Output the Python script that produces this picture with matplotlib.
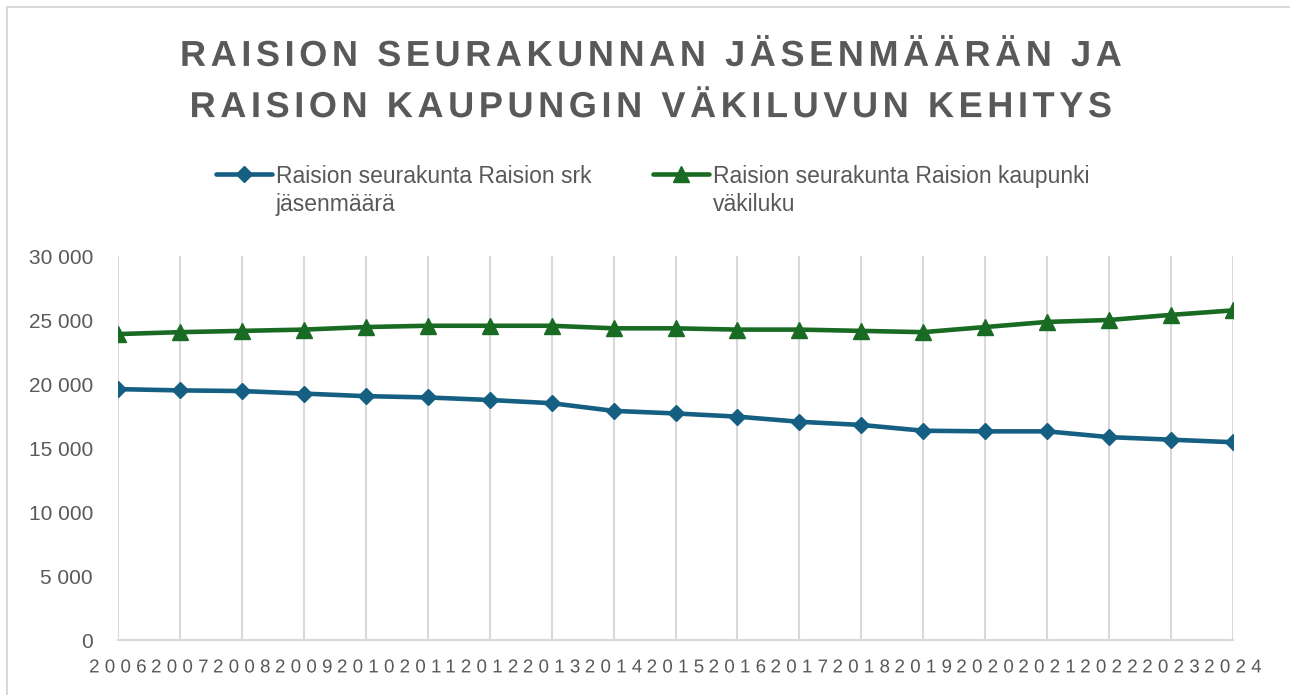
import numpy as np
import matplotlib
matplotlib.use("Agg")
import matplotlib.pyplot as plt
from matplotlib.patches import Rectangle
from matplotlib.path import Path
from matplotlib.ticker import FuncFormatter
from matplotlib import patheffects

years = [2006, 2007, 2008, 2009, 2010, 2011, 2012, 2013, 2014, 2015,
         2016, 2017, 2018, 2019, 2020, 2021, 2022, 2023, 2024]
srk_members = [19600, 19500, 19450, 19250, 19050, 18950, 18750, 18500, 17900, 17700,
               17450, 17050, 16800, 16350, 16300, 16300, 15850, 15650, 15450]
city_population = [23900, 24050, 24150, 24250, 24450, 24550, 24550, 24550, 24350, 24350,
                   24250, 24250, 24150, 24050, 24450, 24850, 25000, 25400, 25750]
series_labels = ["Raision seurakunta Raision srk\njäsenmäärä",
                 "Raision seurakunta Raision kaupunki\nväkiluku"]
title_text = "RAISION SEURAKUNNAN JÄSENMÄÄRÄN JA\nRAISION KAUPUNGIN VÄKILUVUN KEHITYS"
y_ticks = [0, 5000, 10000, 15000, 20000, 25000, 30000]

TEXT = "#595959"
GRID = "#d9d9d9"
BLUE = "#156082"
GREEN = "#196B24"


class Tracking(patheffects.AbstractPathEffect):
    """Add letter spacing (in em) to a centred text path."""
    def __init__(self, em):
        super().__init__()
        self.sp = em * 100.0  # text paths use 100 units per em

    def draw_path(self, renderer, gc, tpath, affine, rgbFace=None):
        codes = tpath.codes
        verts = np.array(tpath.vertices, dtype=float)
        if codes is None or len(codes) == 0:
            renderer.draw_path(gc, tpath, affine, rgbFace)
            return
        real = (codes != Path.CLOSEPOLY) & (codes != Path.STOP)
        starts = list(np.where(codes == Path.MOVETO)[0]) + [len(codes)]
        subs = []
        for i in range(len(starts) - 1):
            a, b = starts[i], starts[i + 1]
            m = real[a:b]
            xs = verts[a:b, 0][m]
            if len(xs) == 0:
                continue
            subs.append((xs.min(), xs.max(), a, b))
        # larger contours first so holes/dots find their host
        subs.sort(key=lambda s: (-(s[1] - s[0]), s[0]))
        glyphs = []
        tol = 4.0
        for x0, x1, a, b in subs:
            host = None
            for g in glyphs:
                if x0 >= g[0] - tol and x1 <= g[1] + tol:
                    host = g
                    break
            if host is None:
                glyphs.append([x0, x1, [(a, b)]])
            else:
                host[2].append((a, b))
        glyphs.sort(key=lambda g: g[0])
        off = 0.0
        offsets = []
        for k, g in enumerate(glyphs):
            if k > 0:
                off += self.sp
                if g[0] - glyphs[k - 1][1] > 22:
                    off += self.sp
            offsets.append(off)
        shift = off / 2.0
        for g, o in zip(glyphs, offsets):
            for a, b in g[2]:
                verts[a:b, 0] += o - shift
        renderer.draw_path(gc, Path(verts, codes), affine, rgbFace)


W, H = 1290, 695
fig = plt.figure(figsize=(W / 100, H / 100), dpi=100)
fig.patch.set_facecolor("white")

ax = fig.add_axes([118 / W, 1 - 640 / H, (1233 - 118) / W, (640 - 256) / H])
ax.plot(years, srk_members, color=BLUE, lw=3.3, marker="D", markersize=7.8,
        label=series_labels[0], zorder=3, solid_capstyle="round")
ax.plot(years, city_population, color=GREEN, lw=3.3, marker="^", markersize=12,
        label=series_labels[1], zorder=3, solid_capstyle="round")

ax.set_xlim(years[0], years[-1])
ax.set_ylim(0, 30000)
ax.set_xticks(years)
ax.set_yticks(y_ticks)
ax.yaxis.set_major_formatter(FuncFormatter(lambda v, p: f"{int(v):,}".replace(",", " ")))
ax.grid(axis="x", color=GRID, lw=1.5)
ax.grid(axis="y", visible=False)
for s in ["top", "right", "left"]:
    ax.spines[s].set_visible(False)
ax.spines["bottom"].set_color(GRID)
ax.spines["bottom"].set_linewidth(1.5)
ax.tick_params(axis="both", length=0, labelcolor=TEXT)
ax.tick_params(axis="y", pad=18, labelsize=15)
ax.tick_params(axis="x", pad=14, labelsize=13.5)
for lab in ax.get_yticklabels():
    lab.set_fontfamily("Liberation Sans")
for lab in ax.get_xticklabels():
    lab.set_fontfamily("Liberation Sans")
    lab.set_path_effects([Tracking(0.28)])

fig.text(0.504, 1 - 82 / H, title_text, ha="center", va="center",
         fontsize=26, fontweight="bold", color=TEXT, family="Liberation Sans",
         linespacing=1.6, path_effects=[Tracking(0.127)])

fs_leg = 16.5
leg = fig.legend(loc="upper left", bbox_to_anchor=(216 / W, 1 - 165 / H),
                 ncol=2, frameon=False, borderpad=0, borderaxespad=0,
                 handlelength=2.45, handleheight=0.87, handletextpad=0.17,
                 columnspacing=2.66,
                 prop={"family": "Liberation Sans", "size": fs_leg})
for t in leg.get_texts():
    t.set_color(TEXT)
    t.set_linespacing(1.26)
for col in leg._legend_handle_box.get_children():
    for item in col.get_children():
        item.align = "top"

fig.patches.append(Rectangle((7 / W, -0.05), 1.2, 1 - 7 / H + 0.05,
                             transform=fig.transFigure, fill=False,
                             edgecolor=GRID, lw=1.5))

fig.savefig("out.png", dpi=100, facecolor="white")
